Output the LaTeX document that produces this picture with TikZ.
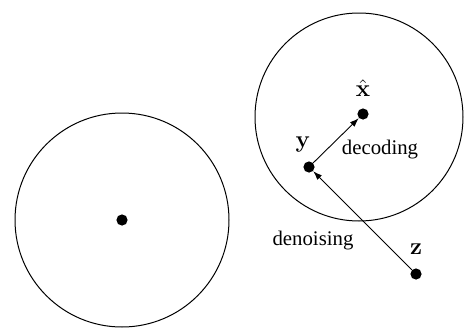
\documentclass[tikz,border=0pt]{standalone}
\usepackage[no-math]{fontspec}
\setmainfont{Liberation Serif}
\usetikzlibrary{arrows.meta}

\begin{document}
\begin{tikzpicture}[x=0.5pt, y=0.5pt,
  ball/.style={draw=black, line width=0.5pt},
  dot/.style={circle, fill=black, inner sep=0pt, minimum size=5.6pt},
  lbl/.style={font=\fontsize{10.4}{12}\selectfont, inner sep=1pt},
  sym/.style={font=\fontsize{13}{15}\selectfont, inner sep=1pt},
  flow/.style={line width=0.45pt, -{Latex[length=4.5pt, width=3.2pt]}}]
\useasboundingbox (0,0) rectangle (466,328);
% the two balls
\draw[ball] (122,108) circle[radius=107];
\draw[ball] (359,211) circle[radius=104];
% points
\node[dot] (c) at (122,108) {};
\node[dot] (xh) at (363,214) {};
\node[dot] (y) at (309,161) {};
\node[dot] (z) at (416,54) {};
% labels
\node[sym] (xhl) at (363,240) {$\hat{\mathbf{x}}$};
\node[sym] (yl) at (303,184) {$\mathbf{y}$};
\node[sym] (zl) at (416,79) {$\mathbf{z}$};
\node[lbl] (dec) at (380,178) {decoding};
\node[lbl] (den) at (313,87) {denoising};
% maps
\draw[flow] (y) -- (xh);
\draw[flow] (z) -- (y);
\end{tikzpicture}
\end{document}
